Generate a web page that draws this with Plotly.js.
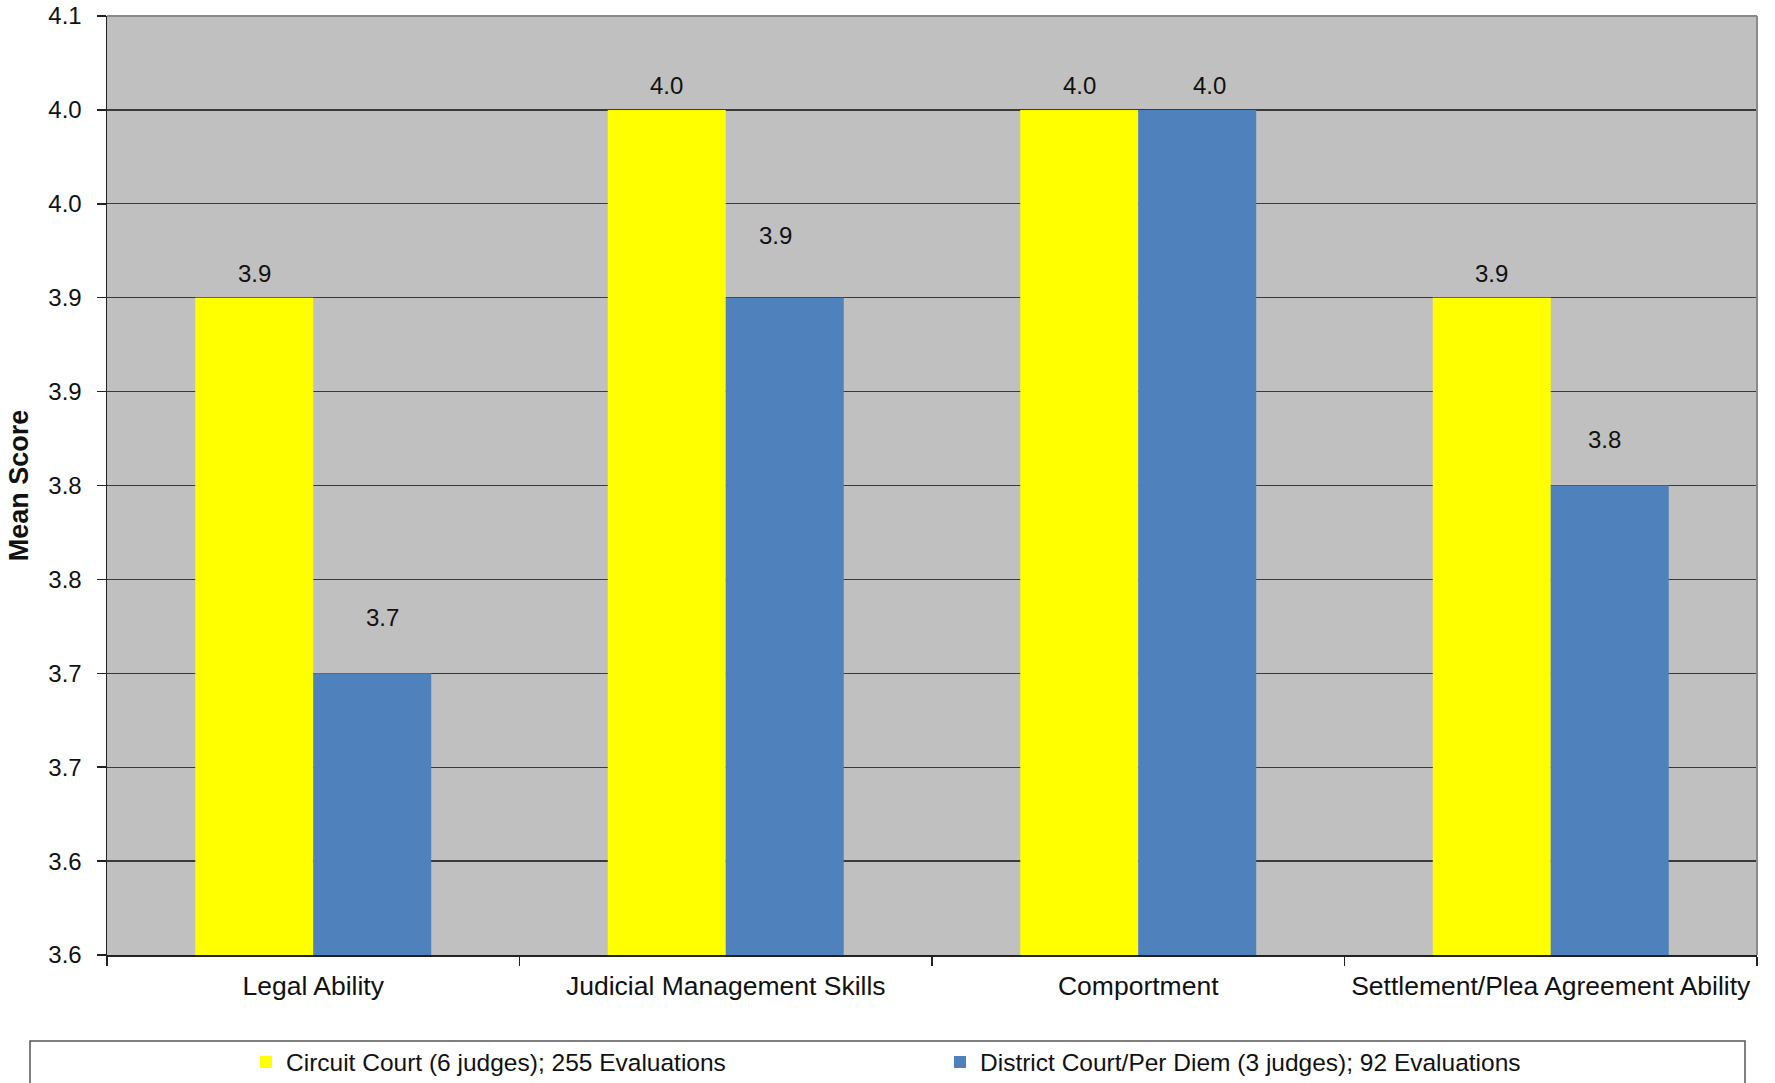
<!DOCTYPE html>
<html>
<head>
<meta charset="utf-8">
<script src="https://cdn.plot.ly/plotly-3.0.1.min.js"></script>
<style>html,body{margin:0;padding:0;background:#fff;}#chart{width:1775px;height:1083px;}</style>
</head>
<body>
<div id="chart"></div>
<script>
// ---- data ----
const categories = ["Legal Ability", "Judicial Management Skills", "Comportment", "Settlement/Plea Agreement Ability"];
const seriesNames = ["Circuit Court (6 judges); 255 Evaluations", "District Court/Per Diem (3 judges); 92 Evaluations"];
const circuitValues = [3.95, 4.05, 4.05, 3.95];
const districtValues = [3.75, 3.95, 4.05, 3.85];
const circuitLabels = ["3.9", "4.0", "4.0", "3.9"];
const districtLabels = ["3.7", "3.9", "4.0", "3.8"];
const yTickVals = [3.6, 3.65, 3.7, 3.75, 3.8, 3.85, 3.9, 3.95, 4.0, 4.05, 4.1];
const yTickText = ["3.6", "3.6", "3.7", "3.7", "3.8", "3.8", "3.9", "3.9", "4.0", "4.0", "4.1"];

// ---- layout constants ----
const W = 1775, H = 1083;
const M = {l: 107, r: 18, t: 16, b: 128};
const plotW = W - M.l - M.r;
const plotH = H - M.t - M.b;
const bargap = 0.428;
const catW = plotW / categories.length;
const barW = catW * (1 - bargap) / 2;
const FONT = 'Arial, "Liberation Sans", sans-serif';
// hand-moved data label nudges (pixels), as in the original
const circuitNudgeX = [0, 0, 0, 0], circuitNudgeY = [0, 0, 0, 0];
const districtNudgeX = [10, -9, 12, -5], districtNudgeY = [31, 38, 0, 22];

const traces = [
  {type: 'bar', name: seriesNames[0], x: categories, y: circuitValues,
   marker: {color: '#FFFF00', line: {width: 0}}, hoverinfo: 'y'},
  {type: 'bar', name: seriesNames[1], x: categories, y: districtValues,
   marker: {color: '#4F81BD', line: {width: 0}}, hoverinfo: 'y'}
];

const annotations = [];
[[circuitValues, circuitLabels, -1, circuitNudgeX, circuitNudgeY],
 [districtValues, districtLabels, 1, districtNudgeX, districtNudgeY]].forEach(([vals, labs, side, nx, ny]) => {
  categories.forEach((c, i) => {
    annotations.push({
      x: c, y: vals[i], xref: 'x', yref: 'y', text: labs[i], showarrow: false,
      xanchor: 'center', yanchor: 'bottom', xshift: side * barW / 2 + nx[i], yshift: 9 + ny[i],
      font: {family: FONT, size: 24, color: '#111'}
    });
  });
});

const layout = {
  width: W, height: H,
  margin: M,
  paper_bgcolor: '#ffffff',
  plot_bgcolor: '#C0C0C0',
  barmode: 'group',
  bargap: bargap,
  bargroupgap: 0,
  font: {family: FONT, size: 24, color: '#111'},
  showlegend: true,
  legend: {
    orientation: 'h', xref: 'container', yref: 'container',
    x: 246 / W, y: 1 - 1062 / H, xanchor: 'left', yanchor: 'middle',
    entrywidth: 649, entrywidthmode: 'pixels',
    font: {family: FONT, size: 24.5, color: '#111'},
    bgcolor: 'rgba(0,0,0,0)', borderwidth: 0, traceorder: 'normal'
  },
  xaxis: {
    type: 'category',
    showgrid: false,
    showline: true, linecolor: '#222', linewidth: 1.5,
    ticks: 'outside', tickson: 'boundaries', ticklen: 9, tickcolor: '#222', tickwidth: 1.5,
    tickfont: {family: FONT, size: 26.5, color: '#111'},
    tickangle: 0,
    ticklabelstandoff: 7,
    fixedrange: true
  },
  yaxis: {
    range: [3.6, 4.1],
    tickmode: 'array', tickvals: yTickVals, ticktext: yTickText,
    showgrid: true, gridcolor: '#3a3a3a', gridwidth: 1.2,
    showline: true, linecolor: '#222', linewidth: 1.5,
    ticks: 'outside', ticklen: 9, tickcolor: '#222', tickwidth: 1.5,
    tickfont: {family: FONT, size: 24, color: '#111'},
    ticklabelstandoff: 10,
    zeroline: false,
    title: {text: '<b>Mean Score</b>', font: {family: FONT, size: 27, color: '#111'}, standoff: 12},
    fixedrange: true
  },
  annotations: annotations,
  shapes: [
    {type: 'line', xref: 'paper', yref: 'paper', x0: 0, x1: 1, y0: 1, y1: 1, line: {color: '#8a8a8a', width: 2}},
    {type: 'line', xref: 'paper', yref: 'paper', x0: 1, x1: 1, y0: 0, y1: 1, line: {color: '#8a8a8a', width: 2}},
    {type: 'rect', xref: 'paper', yref: 'paper',
     x0: (30 - M.l) / plotW, x1: (1745 - M.l) / plotW,
     y0: (M.t + plotH - 1041) / plotH, y1: (M.t + plotH - 1100) / plotH,
     line: {color: '#555', width: 1.5}, fillcolor: 'rgba(0,0,0,0)'}
  ]
};

Plotly.newPlot('chart', traces, layout, {displayModeBar: false, staticPlot: true});
</script>
</body>
</html>
